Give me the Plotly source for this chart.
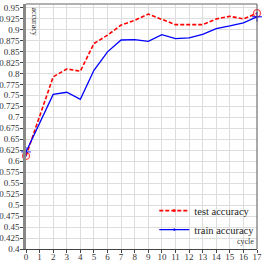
import plotly.graph_objects as go

cycles = list(range(18))
test_acc = [0.612, 0.702, 0.792, 0.810, 0.805, 0.868, 0.887, 0.910, 0.921, 0.935,
            0.923, 0.911, 0.911, 0.911, 0.924, 0.930, 0.924, 0.937]
train_acc = [0.621, 0.687, 0.752, 0.757, 0.741, 0.807, 0.849, 0.876, 0.877, 0.873,
             0.888, 0.879, 0.881, 0.889, 0.902, 0.908, 0.915, 0.929]
y_ticks = [0.4 + 0.025 * i for i in range(23)]
y_labels = [("%.3f" % v).rstrip("0").rstrip(".") for v in y_ticks]

font = "Liberation Serif"
n = len(cycles)
msize = [7] + [0] * (n - 2) + [7]

fig = go.Figure()
fig.add_trace(go.Scatter(
    x=cycles, y=test_acc, name="test accuracy", mode="lines+markers",
    line=dict(color="red", width=1.6, dash="4px,2px"),
    marker=dict(symbol="circle-open", size=msize, color="red", line=dict(width=1.3, color="red")),
    cliponaxis=False))
fig.add_trace(go.Scatter(
    x=cycles, y=train_acc, name="train accuracy", mode="lines+markers",
    line=dict(color="blue", width=1.3),
    marker=dict(symbol="cross-thin-open", size=msize, color="blue", line=dict(width=1.3, color="blue")),
    cliponaxis=False))

fig.update_layout(
    width=263, height=263,
    margin=dict(l=26, r=6, t=4, b=14),
    paper_bgcolor="white", plot_bgcolor="white",
    font=dict(family=font, size=9, color="#333"),
    showlegend=True,
    legend=dict(x=1.01, y=0.02, xanchor="right", yanchor="bottom",
                bgcolor="rgba(255,255,255,0)", font=dict(family=font, size=10.5, color="#222"),
                tracegroupgap=0, itemwidth=30),
    xaxis=dict(range=[0, 17], tickvals=cycles, ticktext=[str(c) for c in cycles],
               tickangle=0, automargin=False, ticklabelstandoff=-4,
               showgrid=True, gridcolor="#dddddd", gridwidth=1,
               showline=True, linecolor="#444", linewidth=1.2, mirror=False,
               ticks="outside", ticklen=3, tickcolor="#444", zeroline=False,
               tickfont=dict(family=font, size=9, color="#333")),
    yaxis=dict(range=[0.4, 0.958], tickvals=y_ticks, ticktext=y_labels,
               automargin=False, ticklabelstandoff=-1,
               showgrid=True, gridcolor="#dddddd", gridwidth=1,
               showline=True, linecolor="#888", linewidth=2.5,
               ticks="outside", ticklen=3, tickcolor="#444", zeroline=False,
               tickfont=dict(family=font, size=9, color="#333")),
    shapes=[
        dict(type="line", xref="paper", yref="paper", x0=0, x1=1, y0=1, y1=1,
             line=dict(color="#999", width=1.5)),
        dict(type="line", xref="paper", yref="paper", x0=1, x1=1, y0=0, y1=1,
             line=dict(color="#555", width=1)),
    ],
    annotations=[
        dict(text="accuracy", xref="paper", yref="paper", x=0.01, y=0.995,
             xanchor="left", yanchor="top", showarrow=False, textangle=90,
             font=dict(family=font, size=8, color="#333")),
        dict(text="cycle", xref="paper", yref="paper", x=0.995, y=0.005,
             xanchor="right", yanchor="bottom", showarrow=False,
             font=dict(family=font, size=8, color="#333")),
    ],
)

fig.write_html("out.html", config={"displayModeBar": False},
               post_script="document.body.style.margin='0';document.body.style.overflow='hidden';")
